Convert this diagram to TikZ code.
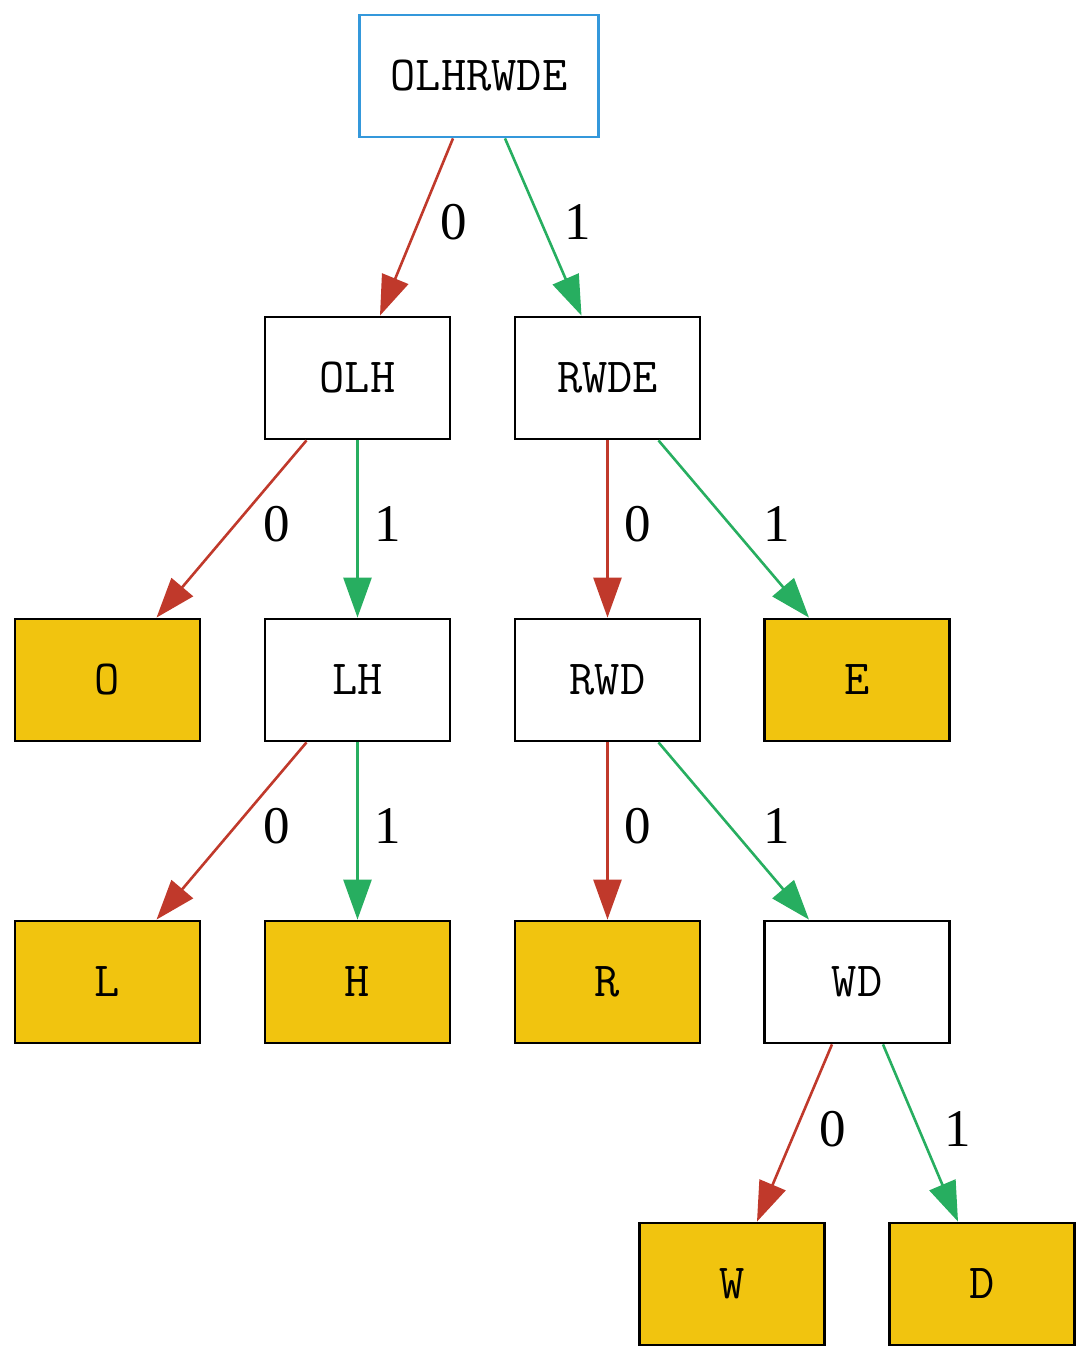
\documentclass[tikz,border=0pt]{standalone}
\usepackage{fontspec}
\setmainfont{Liberation Serif}
\usetikzlibrary{arrows.meta,calc}
\definecolor{cred}{HTML}{C0392B}
\definecolor{cgreen}{HTML}{27AE60}
\definecolor{cblue}{HTML}{3498DB}
\definecolor{cyellow}{HTML}{F1C40F}
\begin{document}
\begin{tikzpicture}[x=0.5pt,y=-0.5pt,
  box/.style={draw=black, line width=1.4pt, minimum width=92.5pt, minimum height=61pt,
    inner sep=0pt, fill=white, font=\fontsize{24.5}{28}\selectfont\ttfamily},
  leaf/.style={box, fill=cyellow},
  rootbox/.style={box, draw=cblue, minimum width=119.5pt},
  e0/.style={draw=cred, line width=1.3pt, -{Triangle[length=20pt,width=14pt]}},
  e1/.style={draw=cgreen, line width=1.3pt, -{Triangle[length=20pt,width=14pt]}},
  lbl/.style={inner sep=0pt, font=\fontsize{26.5}{30}\selectfont}]
\useasboundingbox (0,0) rectangle (1090,1361);
% nodes
\node[rootbox] (root) at (479,76) {OLHRWDE};
\node[box] (olh) at (357.5,378) {OLH};
\node[box] (rwde) at (607.5,378) {RWDE};
\node[leaf] (o) at (107.5,680) {O};
\node[box] (lh) at (357.5,680) {LH};
\node[box] (rwd) at (607.5,680) {RWD};
\node[leaf] (e) at (857,680) {E};
\node[leaf] (l) at (107.5,982) {L};
\node[leaf] (h) at (357.5,982) {H};
\node[leaf] (r) at (607.5,982) {R};
\node[box] (wd) at (857,982) {WD};
\node[leaf] (w) at (732,1284) {W};
\node[leaf] (d) at (982,1284) {D};
% edges
\draw[e0] ($(root.south)+(-26,0)$) -- ($(olh.north)+(22.5,0)$);
\draw[e1] ($(root.south)+(26,0)$) -- ($(rwde.north)+(-26,0)$);
\draw[e0] ($(olh.south)+(-51,0)$) -- ($(o.north)+(49,0)$);
\draw[e1] (olh.south) -- (lh.north);
\draw[e0] (rwde.south) -- (rwd.north);
\draw[e1] ($(rwde.south)+(51,0)$) -- ($(e.north)+(-48,0)$);
\draw[e0] ($(lh.south)+(-51,0)$) -- ($(l.north)+(49,0)$);
\draw[e1] (lh.south) -- (h.north);
\draw[e0] (rwd.south) -- (r.north);
\draw[e1] ($(rwd.south)+(51,0)$) -- ($(wd.north)+(-48,0)$);
\draw[e0] ($(wd.south)+(-25,0)$) -- ($(w.north)+(25,0)$);
\draw[e1] ($(wd.south)+(26,0)$) -- ($(d.north)+(-24,0)$);
% labels
\node[lbl] (l1) at (454,222) {0};
\node[lbl] (l2) at (578,222) {1};
\node[lbl] (l3) at (277,524) {0};
\node[lbl] (l4) at (388,524) {1};
\node[lbl] (l5) at (638,524) {0};
\node[lbl] (l6) at (777,524) {1};
\node[lbl] (l7) at (277,826) {0};
\node[lbl] (l8) at (388,826) {1};
\node[lbl] (l9) at (638,826) {0};
\node[lbl] (l10) at (777,826) {1};
\node[lbl] (l11) at (833,1129) {0};
\node[lbl] (l12) at (958,1129) {1};
\end{tikzpicture}
\end{document}
